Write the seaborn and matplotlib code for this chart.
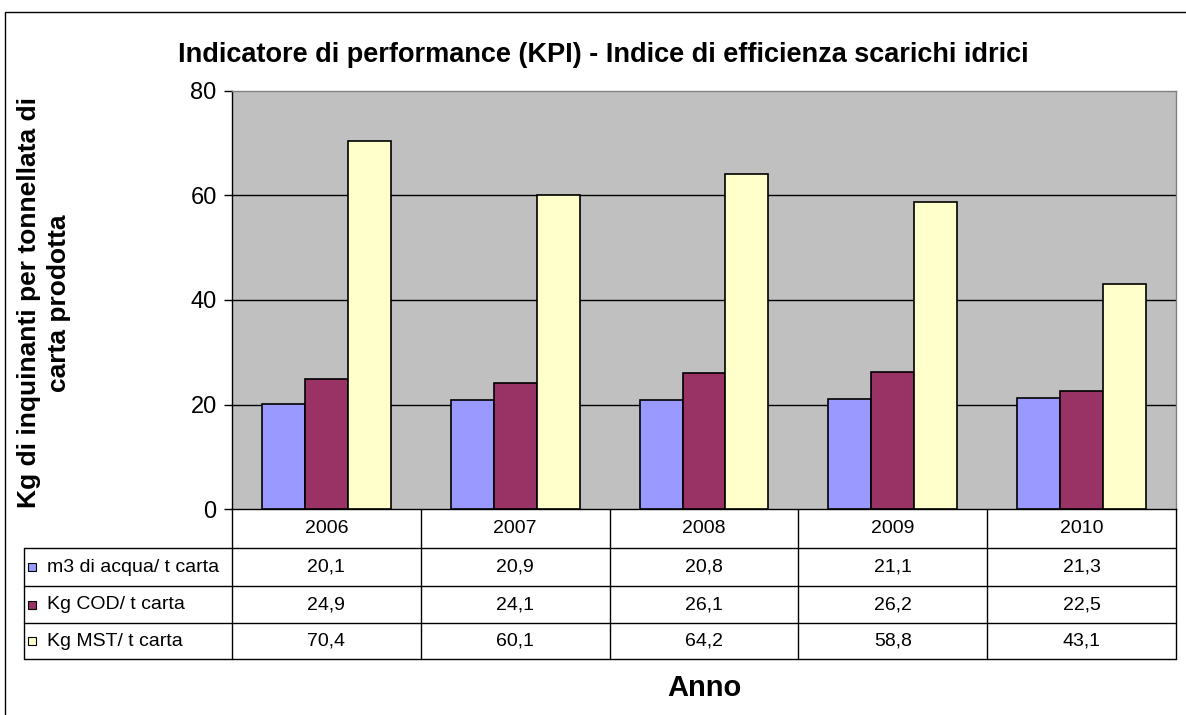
import pandas as pd
import seaborn as sns
import matplotlib.pyplot as plt
from matplotlib.patches import Rectangle

sns.set_style('white')
plt.rcParams['font.family'] = ['Liberation Sans', 'DejaVu Sans']
plt.rcParams['text.color'] = 'black'
plt.rcParams['ytick.color'] = 'black'

years = ['2006', '2007', '2008', '2009', '2010']
series = ['m3 di acqua/ t carta', 'Kg COD/ t carta', 'Kg MST/ t carta']
acqua = [20.1, 20.9, 20.8, 21.1, 21.3]
cod = [24.9, 24.1, 26.1, 26.2, 22.5]
mst = [70.4, 60.1, 64.2, 58.8, 43.1]
palette = ["#9999FF", "#993366", "#FFFFCC"]

rows = []
for name, vals in zip(series, [acqua, cod, mst]):
    for y, v in zip(years, vals):
        rows.append({'Anno': y, 'Serie': name, 'Valore': v})
df = pd.DataFrame(rows)

W, H = 1186, 715
fig = plt.figure(figsize=(W / 100, H / 100), dpi=100)
x0, x1, y0, y1 = 232, 1176, 91, 509
ax = fig.add_axes([x0 / W, 1 - y1 / H, (x1 - x0) / W, (y1 - y0) / H])
ax.set_facecolor('#C0C0C0')

sns.barplot(data=df, x='Anno', y='Valore', hue='Serie', palette=palette,
            width=0.683, edgecolor='black', linewidth=1.2, saturation=1,
            errorbar=None, ax=ax, zorder=3)
ax.get_legend().remove()

ax.set_ylim(0, 80)
ax.set_xlim(-0.5, len(years) - 0.5)
ax.set_yticks([0, 20, 40, 60, 80])
ax.set_yticklabels(['0', '20', '40', '60', '80'], fontsize=17, color='black')
ax.tick_params(axis='y', direction='out', length=6, width=1, color='black', pad=5, left=True)
ax.set_xticks([])
ax.set_xlabel('')
ax.set_ylabel('')
for v in [20, 40, 60]:
    ax.axhline(v, color='black', lw=1, zorder=1)
ax.spines['left'].set_color('black')
ax.spines['bottom'].set_color('black')
ax.spines['top'].set_color('#808080')
ax.spines['right'].set_color('#808080')
for s in ax.spines.values():
    s.set_linewidth(1)

# data table below the plot
def fx(px):
    return px / W

def fy(py):
    return 1 - py / H

col_w = (x1 - x0) / len(years)
row_y = [509, 548, 586, 623, 659]
lab_x = 24
lc = 'black'
fs_tab = 14
for yy in row_y[1:]:
    fig.add_artist(plt.Line2D([fx(lab_x), fx(x1)], [fy(yy), fy(yy)], color=lc, lw=1))
for i in range(len(years) + 1):
    xx = x0 + i * col_w
    fig.add_artist(plt.Line2D([fx(xx), fx(xx)], [fy(509), fy(659)], color=lc, lw=1))
fig.add_artist(plt.Line2D([fx(lab_x), fx(lab_x)], [fy(548), fy(659)], color=lc, lw=1))

for i, y in enumerate(years):
    cx = x0 + (i + 0.5) * col_w
    fig.text(fx(cx), fy((row_y[0] + row_y[1]) / 2), y, ha='center', va='center', fontsize=fs_tab)

for r, (name, vals, col) in enumerate(zip(series, [acqua, cod, mst], palette)):
    cy = (row_y[r + 1] + row_y[r + 2]) / 2
    fig.add_artist(Rectangle((fx(28), fy(cy + 4)), 8 / W, 8 / H, facecolor=col,
                             edgecolor='black', lw=0.8, transform=fig.transFigure))
    fig.text(fx(47), fy(cy), name, ha='left', va='center', fontsize=fs_tab)
    for i, v in enumerate(vals):
        cx = x0 + (i + 0.5) * col_w
        fig.text(fx(cx), fy(cy), f'{v:.1f}'.replace('.', ','), ha='center', va='center', fontsize=fs_tab)

# titles
fig.text(fx(603), fy(55), 'Indicatore di performance (KPI) - Indice di efficienza scarichi idrici',
         ha='center', va='center', fontsize=19.5, fontweight='bold')
fig.text(fx(704), fy(688), 'Anno', ha='center', va='center', fontsize=21, fontweight='bold')
fig.text(fx(44), fy(303), 'Kg di inquinanti per tonnellata di\ncarta prodotta', ha='center',
         va='center', rotation=90, fontsize=19, fontweight='bold', linespacing=1.3)

# outer chart border
fig.add_artist(Rectangle((fx(5), fy(720)), (W + 10) / W, (720 - 12) / H, facecolor='none',
                         edgecolor='black', lw=1, transform=fig.transFigure, clip_on=False))

fig.savefig('out.png', dpi=100)
